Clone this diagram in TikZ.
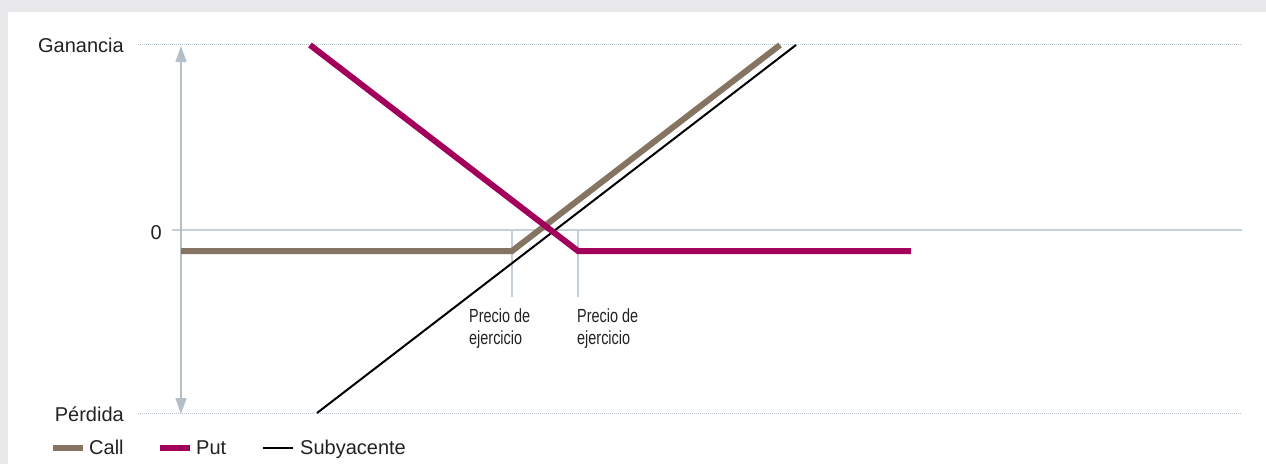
\documentclass[tikz,border=0pt]{standalone}
\usepackage{fontspec}
\setmainfont{Liberation Sans}
\newfontfamily\narrowfont[FakeStretch=0.76]{Liberation Sans}
\usetikzlibrary{arrows.meta}
\definecolor{framegray}{HTML}{E9E8EB}
\definecolor{axisgray}{HTML}{C4CFD7}
\definecolor{dotgray}{HTML}{B8C4CD}
\definecolor{arrowgray}{HTML}{B3C0CA}
\definecolor{callbrown}{HTML}{857462}
\definecolor{putred}{HTML}{A3005B}
\definecolor{txt}{HTML}{222222}
\tikzset{
  axislabel/.style={font=\fontsize{20}{24}\selectfont, text=txt, inner sep=0pt},
  strikelabel/.style={font=\narrowfont\fontsize{19}{22}\selectfont, text=txt, inner sep=0pt, align=left},
  dottedline/.style={dotgray, line width=1pt, dash pattern=on 1pt off 1pt},
  axisline/.style={axisgray, line width=1.6pt},
  tickline/.style={axisgray, line width=1.2pt},
  callline/.style={callbrown, line width=6pt},
  putline/.style={putred, line width=6pt},
  underline/.style={black, line width=2pt},
}
\begin{document}
\begin{tikzpicture}[x=1pt,y=-1pt]
\fill[framegray] (0,0) rectangle (1266,464);
\fill[white] (8,12) rectangle (1266,464);
\useasboundingbox (0,0) rectangle (1266,464);
% coordinates
\coordinate (gL) at (138,44);
\coordinate (gR) at (1241,44);
\coordinate (zL) at (172,230);
\coordinate (zR) at (1242,230);
\coordinate (pL) at (138,413);
\coordinate (pR) at (1241,413);
\coordinate (aT) at (181,46);
\coordinate (aB) at (181,414);
\coordinate (s1T) at (512,230);
\coordinate (s1B) at (512,297);
\coordinate (s2T) at (578,230);
\coordinate (s2B) at (578,297);
\coordinate (c0) at (181,251);
\coordinate (c1) at (512,251);
\coordinate (c2) at (780,45);
\coordinate (p0) at (310,45);
\coordinate (p1) at (578,251);
\coordinate (p2) at (911,251);
\coordinate (u0) at (317,413);
\coordinate (u1) at (796,45);
% axes
\draw[dottedline] (gL) -- (gR);
\draw[dottedline] (pL) -- (pR);
\draw[axisline] (zL) -- (zR);
\draw[arrowgray, line width=1.5pt, {Triangle[length=16pt,width=11pt]}-{Triangle[length=16pt,width=11pt]}] (aT) -- (aB);
\draw[tickline] (s1T) -- (s1B);
\draw[tickline] (s2T) -- (s2B);
% labels
\node[axislabel, anchor=base east] (lg) at (124,52) {Ganancia};
\node[axislabel, anchor=base east] (l0) at (162,239) {0};
\node[axislabel, anchor=base east] (lp) at (124,421) {Pérdida};
\node[strikelabel, anchor=base west] (k1) at (469,344) {Precio de\\ejercicio};
\node[strikelabel, anchor=base west] (k2) at (577,344) {Precio de\\ejercicio};
% curves
\draw[underline] (u0) -- (u1);
\draw[callline] (c0) -- (c1) -- (c2);
\draw[putline] (p0) -- (p1) -- (p2);
% legend
\coordinate (lc0) at (53,448);
\coordinate (lc1) at (83,448);
\coordinate (lp0) at (160,448);
\coordinate (lp1) at (190,448);
\coordinate (lu0) at (263,448);
\coordinate (lu1) at (293,448);
\draw[callline] (lc0) -- (lc1);
\draw[putline] (lp0) -- (lp1);
\draw[underline] (lu0) -- (lu1);
\node[axislabel, anchor=base west] (tc) at (89,454) {Call};
\node[axislabel, anchor=base west] (tp) at (196,454) {Put};
\node[axislabel, anchor=base west] (tu) at (300,454) {Subyacente};
\end{tikzpicture}
\end{document}
